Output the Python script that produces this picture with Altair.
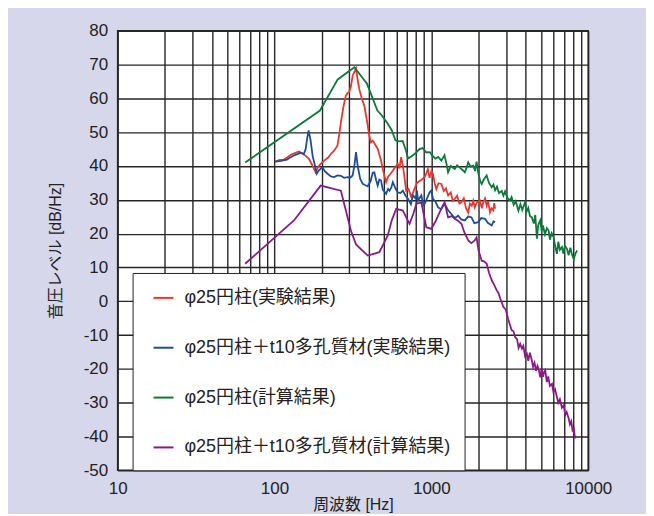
import altair as alt
import pandas as pd

# ---- data ----
labels = [
    "φ25円柱(実験結果)",
    "φ25円柱＋t10多孔質材(実験結果)",
    "φ25円柱(計算結果)",
    "φ25円柱＋t10多孔質材(計算結果)",
]
colors = ["#e8372f", "#1f4d9e", "#0b7a3b", "#8a1a86"]

red_f = [101, 108, 115, 121, 127, 135, 143, 151, 158, 166, 175, 183, 190, 197, 210, 220, 229, 240, 252, 258,
         265, 275, 285, 292, 299, 307, 315, 331, 339, 347, 360, 374, 390, 402, 412, 423, 440, 455, 478, 490,
         503, 515, 530, 545, 568, 590, 611, 625, 642, 658, 675, 691, 715, 745, 770, 802, 830, 860, 906, 930,
         951, 975, 1000, 1024, 1050, 1076, 1110, 1159, 1200, 1240, 1279, 1330, 1370, 1411, 1460, 1510, 1556,
         1610, 1660, 1718, 1760, 1810, 1850, 1893, 1950, 2039, 2100, 2150, 2200, 2254, 2300, 2366, 2420, 2480,
         2520, 2549]
red_db = [41.3, 41.8, 41.9, 42.6, 43.3, 43.8, 44.3, 43.6, 43.0, 42.1, 40.0, 38.1, 39.8, 40.6, 41.8, 42.5, 43.6,
          44.5, 46.0, 49.0, 52.9, 57.5, 60.8, 61.5, 61.8, 63.5, 66.7, 68.9, 65.5, 62.8, 60.0, 57.8, 53.0, 49.0,
          47.0, 47.5, 46.2, 45.1, 41.6, 39.1, 37.0, 35.2, 36.8, 37.5, 38.6, 39.8, 40.6, 39.3, 42.6, 40.1, 36.5,
          32.7, 33.2, 30.8, 32.5, 34.7, 35.4, 35.8, 36.7, 37.9, 39.1, 36.5, 38.4, 37.7, 35.0, 33.2, 34.9, 34.7,
          32.6, 33.4, 31.3, 32.2, 29.7, 30.3, 31.2, 28.9, 29.3, 30.5, 27.7, 26.3, 28.9, 28.2, 29.7, 27.8, 29.2,
          29.8, 27.5, 29.4, 30.4, 28.3, 29.6, 26.3, 27.5, 26.9, 29.0, 27.4]

blue_f = [101, 110, 120, 126, 133, 140, 147, 154, 158, 162, 165, 170, 175, 179, 186, 192, 202, 210, 218, 229,
          240, 252, 265, 278, 292, 305, 315, 324, 331, 337, 342, 352, 365, 380, 393, 410, 423, 433, 445, 455,
          466, 478, 490, 502, 515, 530, 541, 555, 568, 590, 611, 635, 658, 685, 710, 741, 764, 790, 813, 823,
          863, 891, 906, 940, 975, 1000, 1024, 1060, 1102, 1150, 1215, 1280, 1342, 1410, 1482, 1550, 1636, 1720,
          1803, 1880, 1990, 2080, 2198, 2290, 2427, 2490, 2549]
blue_db = [41.3, 41.5, 41.9, 42.5, 43.1, 43.5, 43.9, 43.6, 45.0, 48.5, 50.5, 47.5, 43.0, 41.1, 37.7, 38.7, 39.6,
           38.4, 37.7, 36.9, 36.7, 37.2, 37.1, 36.5, 36.7, 36.6, 37.2, 40.5, 44.1, 41.0, 39.1, 36.2, 34.7, 34.3,
           34.0, 35.5, 38.0, 38.1, 35.8, 34.2, 36.0, 35.7, 33.0, 32.4, 31.8, 33.2, 32.7, 33.6, 35.2, 33.4, 32.2,
           32.0, 32.7, 31.2, 30.3, 28.7, 31.3, 30.5, 31.9, 29.8, 31.3, 28.4, 28.8, 30.5, 32.2, 32.7, 30.3, 29.5,
           27.8, 27.2, 28.8, 26.9, 25.8, 24.6, 25.3, 24.2, 23.9, 25.1, 24.8, 23.1, 23.4, 24.6, 24.4, 23.2, 22.4,
           23.6, 23.4]

green_f = [65, 195, 253, 323, 389, 453, 482, 528, 560, 590, 620, 656, 690, 710, 745, 789, 840, 881, 930, 978,
           1020, 1060, 1106, 1159, 1213, 1250, 1279, 1330, 1411, 1459, 1520, 1600, 1636, 1680, 1718, 1780, 1850,
           1900, 1943, 1990, 2050, 2094, 2160, 2254, 2330, 2427, 2490, 2549, 2620, 2700, 2812, 2880, 2953, 3050,
           3177, 3250, 3350, 3450, 3592, 3700, 3800, 3960, 4050, 4150, 4250, 4374, 4500, 4600, 4710, 4800, 4946,
           5050, 5150, 5300, 5450, 5593, 5700, 5850, 6016, 6150, 6318, 6450, 6600, 6806, 6950, 7100, 7330, 7500,
           7700, 7900, 8091, 8300, 8497]
green_db = [41.0, 56.4, 65.6, 69.2, 64.3, 56.4, 55.0, 52.5, 50.5, 47.6, 47.3, 47.4, 44.5, 42.2, 42.8, 43.7, 45.0,
            45.3, 44.0, 44.1, 43.0, 42.2, 42.7, 41.6, 43.2, 40.5, 38.1, 40.0, 39.1, 40.2, 39.5, 38.6, 38.1, 39.5,
            41.1, 39.8, 40.1, 38.5, 41.3, 38.0, 35.5, 34.7, 36.0, 37.2, 35.0, 33.7, 34.5, 32.8, 33.9, 32.0, 32.6,
            31.2, 32.5, 30.6, 29.8, 30.8, 28.5, 29.6, 26.8, 28.7, 27.0, 29.3, 26.5, 27.6, 25.2, 24.8, 23.0, 25.5,
            18.5, 22.5, 23.9, 20.8, 22.4, 19.8, 21.6, 20.9, 18.2, 20.1, 19.0, 16.4, 14.0, 17.6, 15.2, 16.0, 14.1,
            16.4, 15.5, 13.6, 15.8, 13.7, 12.5, 14.1, 15.0]

purple_f = [65, 133, 197, 265, 307, 331, 393, 466, 527, 560, 597, 658, 726, 770, 802, 863, 929, 1000, 1060, 1129,
            1215, 1279, 1350, 1411, 1480, 1556, 1620, 1718, 1800, 1890, 1943, 2000, 2094, 2170, 2254, 2330, 2427,
            2520, 2612, 2680, 2750, 2881, 2980, 3080, 3180, 3258, 3340, 3420, 3520, 3600, 3683, 3780, 3860, 3960,
            4064, 4150, 4250, 4374, 4450, 4550, 4650, 4750, 4828, 4950, 5050, 5150, 5230, 5323, 5450, 5560, 5700,
            5875, 6000, 6150, 6318, 6450, 6600, 6800, 6976, 7150, 7300, 7515, 7650, 7800, 7950, 8091, 8200, 8299]
purple_db = [11.1, 23.9, 34.2, 32.7, 20.9, 16.8, 13.5, 14.5, 19.4, 24.0, 27.3, 26.8, 22.9, 26.0, 28.8, 29.3, 21.9,
             21.4, 23.5, 26.3, 29.3, 24.8, 25.2, 24.4, 23.8, 22.9, 20.5, 18.0, 17.2, 18.0, 18.9, 15.0, 12.0, 11.8,
             11.1, 8.5, 6.2, 4.8, 3.2, 2.4, 0.8, -1.7, -2.4, -5.0, -7.2, -8.6, -8.9, -10.6, -11.2, -13.8, -12.6,
             -14.0, -13.2, -16.3, -15.5, -17.6, -15.2, -17.5, -19.4, -18.2, -20.6, -19.1, -20.0, -22.5, -19.8,
             -22.3, -21.0, -20.4, -23.9, -22.2, -25.0, -24.4, -26.8, -26.0, -28.3, -30.0, -29.0, -31.5, -30.8,
             -33.6, -32.8, -34.7, -36.4, -35.5, -38.2, -37.7, -39.8, -40.6]

x_ticks = [10, 20, 30, 40, 50, 60, 70, 80, 90,
           100, 200, 300, 400, 500, 600, 700, 800, 900,
           1000, 2000, 3000, 4000, 5000, 6000, 7000, 8000, 9000, 10000]
y_ticks = [-50, -40, -30, -20, -10, 0, 10, 20, 30, 40, 50, 60, 70, 80]

# ---- build table ----
rows = []
for lab, fs, ds in zip(labels, [red_f, blue_f, green_f, purple_f], [red_db, blue_db, green_db, purple_db]):
    for i, (f, d) in enumerate(zip(fs, ds)):
        rows.append({"series": lab, "freq": f, "db": d, "idx": i})
df = pd.DataFrame(rows)

FONT = "Liberation Sans, Noto Sans CJK JP, sans-serif"

chart = alt.Chart(df).mark_line(strokeWidth=1.8, clip=True).encode(
    x=alt.X("freq:Q",
            scale=alt.Scale(type="log", domain=[10, 10000], nice=False),
            axis=alt.Axis(values=x_ticks, title="周波数 [Hz]",
                          labelExpr="(datum.value==10||datum.value==100||datum.value==1000||datum.value==10000) ? ('' + datum.value) : ''",
                          labelFlush=False, labelFontSize=17, labelPadding=10, tickSize=0,
                          titleFontSize=16, titlePadding=0, titleFontWeight="normal")),
    y=alt.Y("db:Q",
            scale=alt.Scale(domain=[-50, 80], nice=False, zero=False),
            axis=alt.Axis(values=y_ticks, title="音圧レベル [dB/Hz]", labelFontSize=17, labelPadding=10,
                          labelExpr="'' + datum.value",
                          tickSize=0, titleFontSize=16, titlePadding=20, titleFontWeight="normal")),
    color=alt.Color("series:N", sort=labels,
                    scale=alt.Scale(domain=labels, range=colors),
                    legend=alt.Legend(orient="none", legendX=15, legendY=243, title=None,
                                      symbolType="stroke", symbolSize=400, symbolStrokeWidth=2,
                                      labelFontSize=18, labelFont=FONT, labelColor="#222", labelLimit=600,
                                      rowPadding=30, padding=14, symbolOffset=6, labelOffset=10,
                                      strokeColor="#222", fillColor="white")),
    order=alt.Order("idx:Q"),
).properties(
    width=472, height=441,
    autosize=alt.AutoSizeParams(type="none"),
    padding={"left": 110, "top": 22, "right": 58, "bottom": 43},
    background="#d6d7ea",
).configure_view(
    fill="white", stroke="#222", strokeWidth=1.5,
).configure_axis(
    grid=True, gridColor="#262626", gridWidth=1.4, gridOpacity=1,
    domain=False, labelFont=FONT, titleFont=FONT, labelColor="#222", titleColor="#222",
)

chart.save("out.html", embed_options={"renderer": "svg", "actions": False})
